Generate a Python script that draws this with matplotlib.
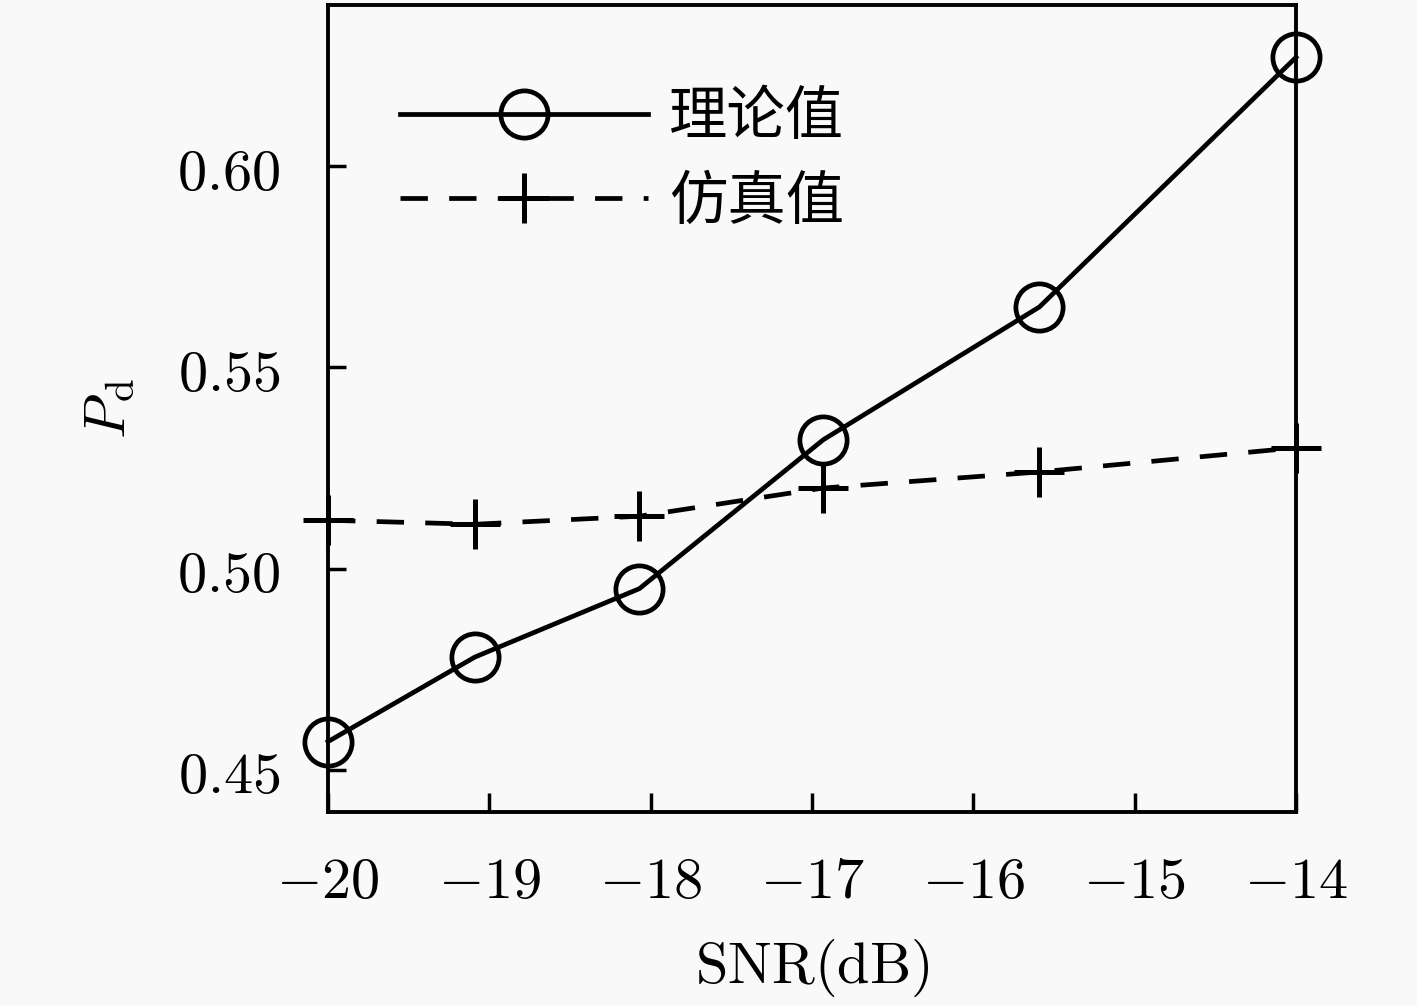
import matplotlib
matplotlib.use('Agg')
import matplotlib.pyplot as plt
import numpy as np

# values
snr = [-20.0, -19.09, -18.07, -16.93, -15.59, -14.0]
pd_theory = [0.457, 0.478, 0.495, 0.532, 0.565, 0.627]
pd_sim = [0.512, 0.511, 0.513, 0.520, 0.524, 0.530]
labels = ['理论值', '仿真值']
xticks = [-20, -19, -18, -17, -16, -15, -14]
yticks = [0.45, 0.50, 0.55, 0.60]

plt.rcParams['mathtext.fontset'] = 'cm'
plt.rcParams['font.family'] = ['Noto Sans CJK SC', 'DejaVu Sans']
plt.rcParams['axes.unicode_minus'] = True

bg = '#f9f9f9'
fig = plt.figure(figsize=(14.17, 10.06), dpi=100, facecolor=bg)
ax = fig.add_axes([0.2315, 0.1928, 0.6831, 0.8022], facecolor=bg)

ax.plot(snr, pd_theory, color='black', lw=3.4, marker='o', markersize=34,
        markerfacecolor='none', markeredgewidth=3.4, label=labels[0], clip_on=False)
ax.plot(snr, pd_sim, color='black', lw=3.4, ls=(0, (5.8, 4.5)), marker='+', markersize=36,
        markeredgewidth=3.6, label=labels[1], clip_on=False)

ax.set_xlim(-20, -14)
ax.set_ylim(0.4395, 0.640)
ax.set_xticks(xticks)
ax.set_yticks(yticks)
ax.set_xticklabels([r'$%d$' % v for v in xticks])
ax.set_yticklabels([r'$%.2f$' % v for v in yticks])
ax.tick_params(axis='both', direction='in', labelsize=42, width=2.5, colors='black')
ax.tick_params(axis='x', length=14, pad=28)
ax.tick_params(axis='y', length=13, pad=34)
for s in ax.spines.values():
    s.set_linewidth(2.8)

ax.set_xlabel(r'$\mathrm{SNR(dB)}$', fontsize=42, labelpad=18)
ax.set_ylabel(r'$P_{\mathrm{d}}$', fontsize=42, labelpad=28)

ax.legend(loc='upper left', bbox_to_anchor=(0.02, 0.963), frameon=False, fontsize=42,
          handlelength=4.25, handletextpad=0.36, labelspacing=0.40)

fig.savefig('out.png', dpi=100, facecolor=bg)
